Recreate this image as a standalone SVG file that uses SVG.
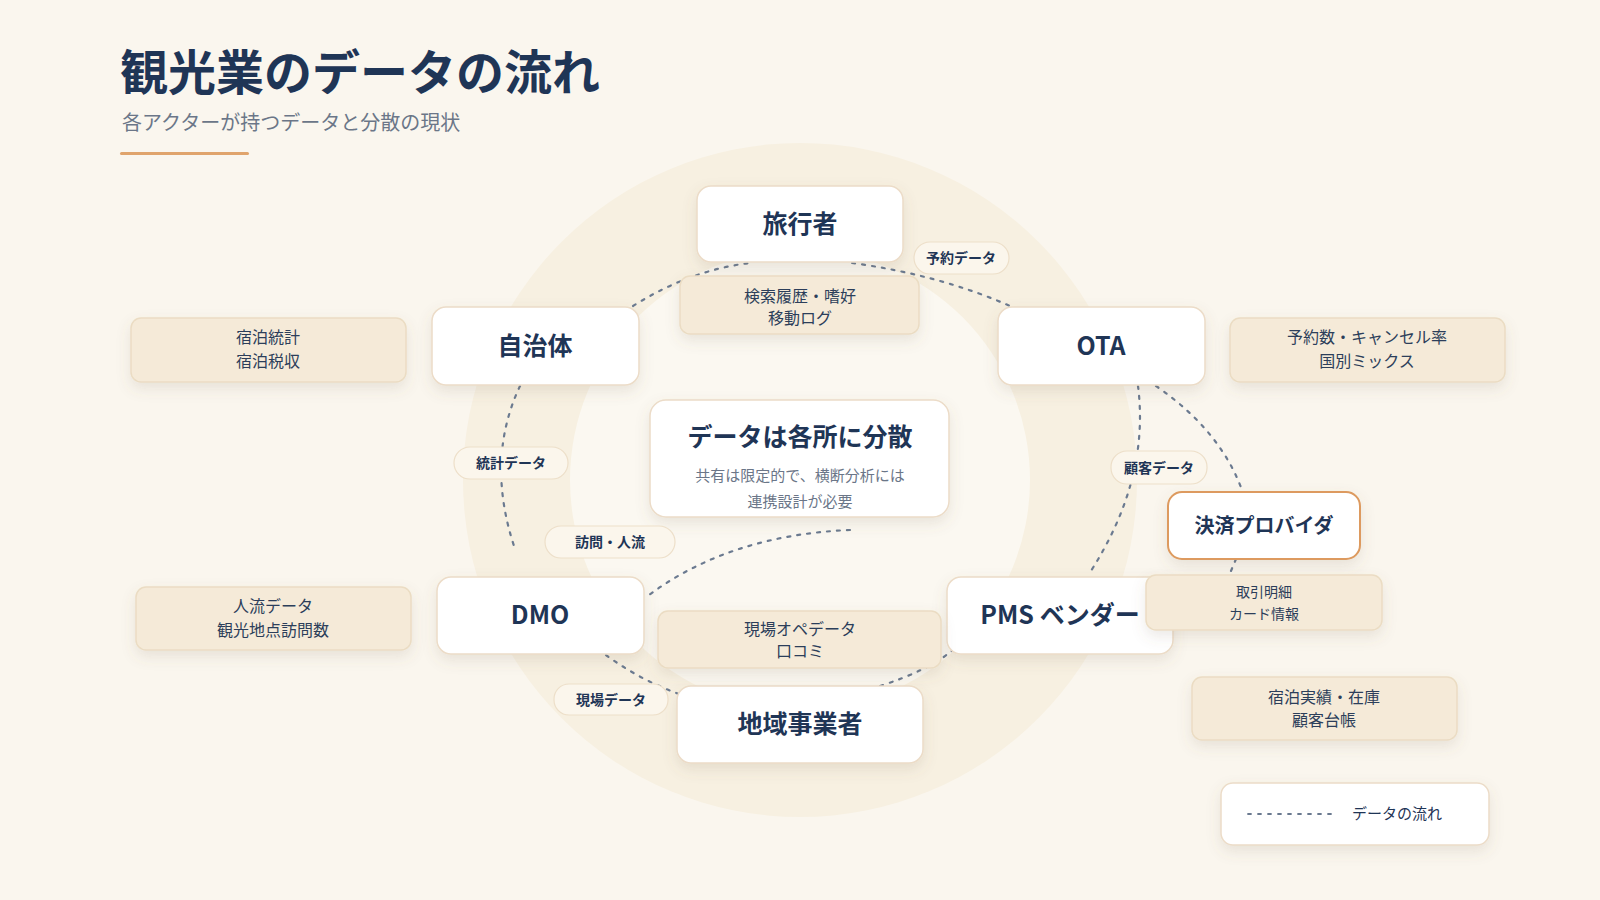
<svg xmlns="http://www.w3.org/2000/svg" width="1600" height="900" viewBox="0 0 1600 900">
<defs>
<filter id="sh" x="-20%" y="-30%" width="140%" height="170%"><feDropShadow dx="0" dy="6" stdDeviation="7" flood-color="#7a6a50" flood-opacity="0.14"/></filter>
</defs>
<style>
text{font-family:"Noto Sans CJK JP","Noto Sans",sans-serif;fill:#1f3556;text-anchor:middle}
.node{fill:#fff;stroke:#ecdcc8;stroke-width:1.5;filter:url(#sh)}
.nt{font-size:25px;font-weight:700}
.data{fill:#f5ead8;stroke:#ebdcc3;stroke-width:1.5;filter:url(#sh)}
.dt{font-size:16px;fill:#2c3e5a}
.pill{fill:#fbf6ec;stroke:#eddfc9;stroke-width:1.2}
.pt{font-size:14px;font-weight:700}
.edge{fill:none;stroke:#6b7a90;stroke-width:2.2;stroke-dasharray:3 7;stroke-linecap:round}
</style>
<rect width="1600" height="900" fill="#faf6ee"/>
<circle cx="800" cy="480" r="337" fill="#f7f0e1"/>
<circle cx="800" cy="480" r="230" fill="#fbf8f1"/>
<g id="title">
<text x="120" y="90" style="font-size:48px;font-weight:700;text-anchor:start">観光業のデータの流れ</text>
<text x="122" y="130" style="font-size:20px;fill:#6b7688;text-anchor:start">各アクターが持つデータと分散の現状</text>
<rect x="120" y="152" width="129" height="3" rx="1.5" fill="#e0a46c"/>
</g>
<g id="connectors">
<path class="edge" d="M633 306 Q690 270 750 263"/>
<path class="edge" d="M852 263 Q940 275 1010 306"/>
<path class="edge" d="M520 386 Q485 460 515 549"/>
<path class="edge" d="M850 530 Q730 535 649 595"/>
<path class="edge" d="M1138 386 Q1150 480 1089 574"/>
<path class="edge" d="M1156 386 Q1220 430 1242 490"/>
<path class="edge" d="M1236 559 L1228 578"/>
<path class="edge" d="M606 655 Q640 680 679 694"/>
<path class="edge" d="M880 686 Q930 670 954 649"/>
</g>
<g id="n-traveler"><rect class="node" x="697" y="186" width="206" height="76" rx="14"/><text class="nt" x="800" y="233">旅行者</text></g>
<g id="n-gov"><rect class="node" x="432" y="307" width="207" height="78" rx="14"/><text class="nt" x="535" y="355">自治体</text></g>
<g id="n-ota"><rect class="node" x="998" y="307" width="207" height="78" rx="14"/><text class="nt" x="1101" y="355">OTA</text></g>
<g id="n-dmo"><rect class="node" x="437" y="577" width="207" height="77" rx="14"/><text class="nt" x="540" y="624">DMO</text></g>
<g id="n-pms"><rect class="node" x="947" y="577" width="226" height="77" rx="14"/><text class="nt" x="1060" y="624">PMS ベンダー</text></g>
<g id="n-local"><rect class="node" x="677" y="686" width="246" height="77" rx="14"/><text class="nt" x="800" y="733">地域事業者</text></g>
<g id="n-pay"><rect class="node" x="1168" y="492" width="192" height="67" rx="14" style="stroke:#dd9a5e;stroke-width:2"/><text x="1264" y="533" style="font-size:20px;font-weight:700">決済プロバイダ</text></g>
<g id="n-center"><rect class="node" x="650" y="400" width="299" height="117" rx="16"/>
<text x="800" y="446" style="font-size:25px;font-weight:700">データは各所に分散</text>
<text x="800" y="481" style="font-size:15px;fill:#6b7688">共有は限定的で、横断分析には</text>
<text x="800" y="507" style="font-size:15px;fill:#6b7688">連携設計が必要</text></g>
<g id="d-traveler"><rect class="data" x="680" y="276" width="239" height="58" rx="10"/><text class="dt" x="800" y="302">検索履歴・嗜好</text><text class="dt" x="800" y="324">移動ログ</text></g>
<g id="d-gov"><rect class="data" x="131" y="318" width="275" height="64" rx="10"/><text class="dt" x="268" y="343">宿泊統計</text><text class="dt" x="268" y="367">宿泊税収</text></g>
<g id="d-ota"><rect class="data" x="1230" y="318" width="275" height="64" rx="10"/><text class="dt" x="1367" y="343">予約数・キャンセル率</text><text class="dt" x="1367" y="367">国別ミックス</text></g>
<g id="d-dmo"><rect class="data" x="136" y="587" width="275" height="63" rx="10"/><text class="dt" x="273" y="612">人流データ</text><text class="dt" x="273" y="636">観光地点訪問数</text></g>
<g id="d-local"><rect class="data" x="658" y="611" width="283" height="57" rx="10"/><text class="dt" x="800" y="635">現場オペデータ</text><text class="dt" x="800" y="657">口コミ</text></g>
<g id="d-pay"><rect class="data" x="1146" y="575" width="236" height="55" rx="10"/><text class="dt" x="1264" y="597" style="font-size:14px">取引明細</text><text class="dt" x="1264" y="619" style="font-size:14px">カード情報</text></g>
<g id="d-pms"><rect class="data" x="1192" y="677" width="265" height="63" rx="10"/><text class="dt" x="1324" y="703">宿泊実績・在庫</text><text class="dt" x="1324" y="726">顧客台帳</text></g>
<g id="labels">
<rect class="pill" x="914" y="242" width="95" height="32" rx="16"/><text class="pt" x="961" y="263">予約データ</text>
<rect class="pill" x="454" y="447" width="114" height="32" rx="16"/><text class="pt" x="511" y="468">統計データ</text>
<rect class="pill" x="545" y="526" width="130" height="32" rx="16"/><text class="pt" x="610" y="547">訪問・人流</text>
<rect class="pill" x="1111" y="451" width="96" height="33" rx="16"/><text class="pt" x="1159" y="473">顧客データ</text>
<rect class="pill" x="554" y="684" width="114" height="31" rx="15"/><text class="pt" x="611" y="705">現場データ</text>
</g>
<g id="legend"><rect class="node" x="1221" y="783" width="268" height="62" rx="12"/>
<line class="edge" x1="1248" y1="814" x2="1332" y2="814" style="stroke-width:1.8"/>
<text x="1352" y="819" style="font-size:15px;text-anchor:start">データの流れ</text></g>
</svg>
